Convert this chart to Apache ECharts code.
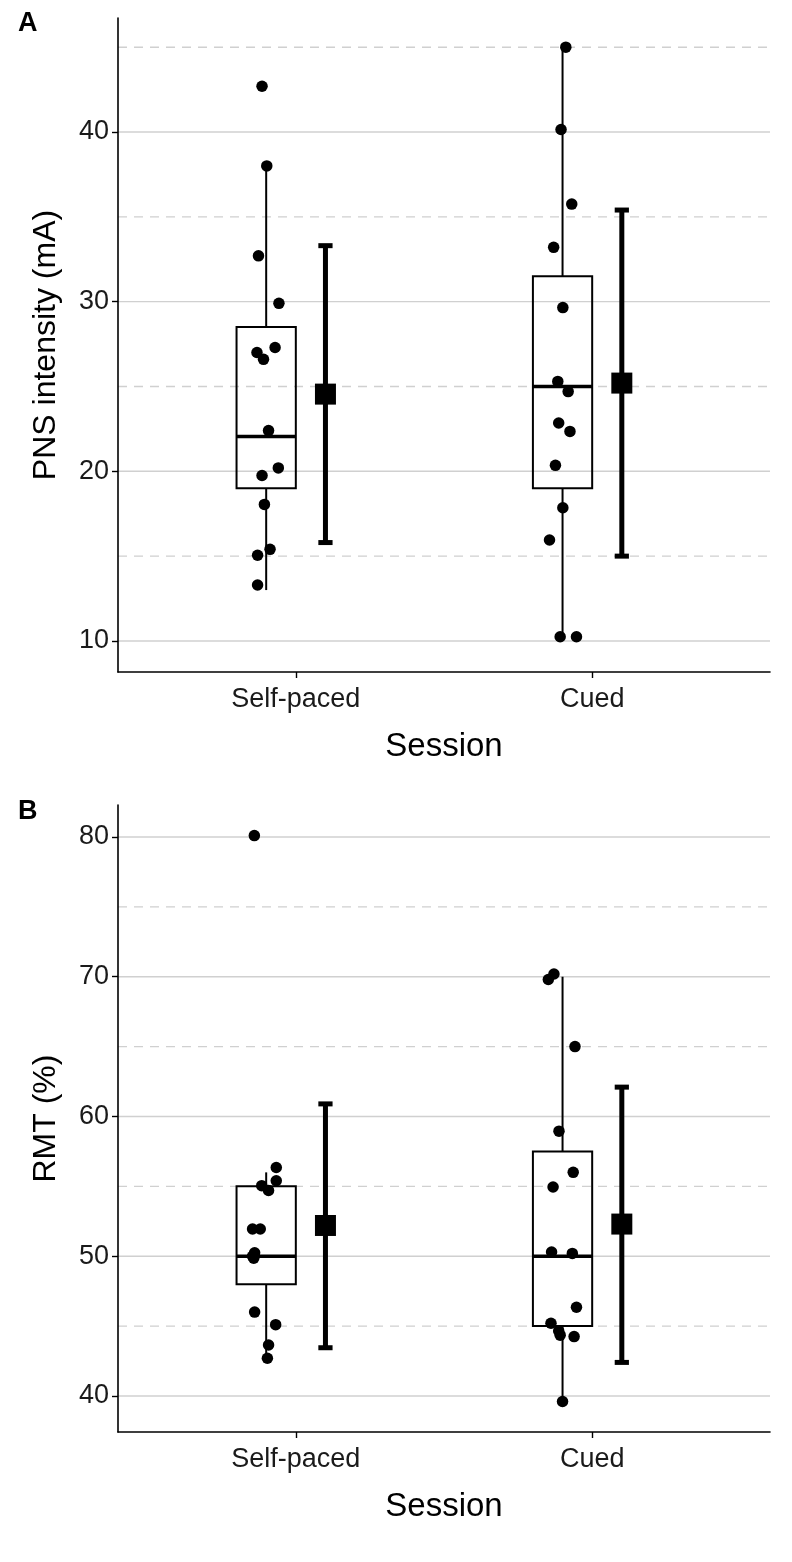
<!DOCTYPE html>
<html>
<head>
<meta charset="utf-8">
<script src="https://cdn.jsdelivr.net/npm/echarts@6/dist/echarts.min.js"></script>
<style>
html,body{margin:0;padding:0;background:#fff;}
#chart{width:792px;height:1562px;}
</style>
</head>
<body>
<div id="chart"></div>
<script>
// ---------- data ----------
const categories = ['Self-paced', 'Cued'];

const yTicksA = [10, 20, 30, 40];
const yMinorA = [15, 25, 35, 45];
const yTicksB = [40, 50, 60, 70, 80];
const yMinorB = [45, 55, 65, 75];

// Panel A: PNS intensity (mA) – individual points (value) and horizontal jitter
const pnsSelfPaced       = [42.7, 38.0, 32.7, 29.9, 27.3, 27.0, 26.6, 22.4, 20.2, 19.75, 18.05, 15.4, 15.05, 13.3];
const pnsSelfPacedJitter = [-0.014, 0.002, -0.026, 0.043, 0.030, -0.031, -0.009, 0.008, 0.041, -0.014, -0.006, 0.013, -0.029, -0.029];
const pnsCued            = [45.0, 40.15, 35.75, 33.2, 29.65, 25.3, 24.7, 22.85, 22.35, 20.35, 17.85, 15.95, 10.25, 10.25];
const pnsCuedJitter      = [0.011, -0.005, 0.031, -0.030, 0.001, -0.016, 0.019, -0.013, 0.025, -0.024, 0.001, -0.044, -0.008, 0.047];

// box stats: [lower whisker, Q1, median, Q3, upper whisker]
const pnsBoxSelfPaced = [13.0, 19.0, 22.05, 28.5, 38.0];
const pnsBoxCued      = [10.1, 19.0, 25.0, 31.5, 45.0];
// mean and error bar: [mean, low, high]
const pnsMeanSelfPaced = [24.55, 15.8, 33.3];
const pnsMeanCued      = [25.2, 15.0, 35.4];

// Panel B: RMT (%)
const rmtSelfPaced       = [80.1, 56.35, 55.4, 55.05, 54.7, 51.95, 51.95, 50.25, 50.0, 49.85, 46.0, 45.1, 43.65, 42.7];
const rmtSelfPacedJitter = [-0.040, 0.034, 0.034, -0.015, 0.008, -0.046, -0.020, -0.039, -0.046, -0.042, -0.039, 0.032, 0.008, 0.004];
const rmtCued            = [70.2, 69.8, 65.0, 58.95, 56.0, 54.95, 50.3, 50.2, 46.35, 45.2, 44.65, 44.35, 44.25, 39.6];
const rmtCuedJitter      = [-0.029, -0.048, 0.042, -0.012, 0.036, -0.032, -0.037, 0.033, 0.047, -0.039, -0.013, -0.008, 0.039, 0.0];

const rmtBoxSelfPaced = [42.7, 48.0, 50.0, 55.0, 56.0];
const rmtBoxCued      = [39.6, 45.0, 50.0, 57.5, 70.0];
const rmtMeanSelfPaced = [52.2, 43.45, 60.9];
const rmtMeanCued      = [52.3, 42.4, 62.1];

// ---------- layout/style constants ----------
const FONT = 'Liberation Sans, Arial, Helvetica, sans-serif';
const BOX_SHIFT = -0.1, MEAN_SHIFT = 0.1, BOX_HALF = 0.1, CAP_HALF = 0.024;
const GRID_COLOR = '#d0d0d0';

const chart = echarts.init(document.getElementById('chart'), null, {renderer: 'canvas'});

function gridLineSeries(idx, ticks, dashed) {
  return {
    type: 'custom', xAxisIndex: idx, yAxisIndex: idx, silent: true, z: 0,
    data: ticks.map(t => [1, t]),
    encode: {x: 0, y: 1},
    renderItem: function (params, api) {
      const cs = params.coordSys;
      const p = api.coord([1, api.value(1)]);
      return {
        type: 'line',
        shape: {x1: cs.x, y1: p[1], x2: cs.x + cs.width, y2: p[1]},
        style: {stroke: GRID_COLOR, lineWidth: 1.4, lineDash: dashed ? [9, 7] : null}
      };
    }
  };
}

function boxSeries(idx, boxes) {
  return {
    type: 'custom', xAxisIndex: idx, yAxisIndex: idx, silent: true, z: 2,
    data: boxes.map((b, i) => [i + 1].concat(b)),
    encode: {x: 0, y: [1, 2, 3, 4, 5]},
    renderItem: function (params, api) {
      const xc = api.value(0) + BOX_SHIFT;
      const lo = api.coord([xc, api.value(1)]);
      const q1 = api.coord([xc, api.value(2)]);
      const md = api.coord([xc, api.value(3)]);
      const q3 = api.coord([xc, api.value(4)]);
      const hi = api.coord([xc, api.value(5)]);
      const hw = api.size([BOX_HALF, 0])[0];
      const st = {stroke: '#000', lineWidth: 2, fill: null};
      return {
        type: 'group',
        children: [
          {type: 'line', shape: {x1: lo[0], y1: lo[1], x2: q1[0], y2: q1[1]}, style: st},
          {type: 'line', shape: {x1: q3[0], y1: q3[1], x2: hi[0], y2: hi[1]}, style: st},
          {type: 'rect', shape: {x: q1[0] - hw, y: q3[1], width: 2 * hw, height: q1[1] - q3[1]},
           style: {stroke: '#000', lineWidth: 2, fill: 'rgba(255,255,255,0)'}},
          {type: 'line', shape: {x1: md[0] - hw, y1: md[1], x2: md[0] + hw, y2: md[1]},
           style: {stroke: '#000', lineWidth: 3.5}}
        ]
      };
    }
  };
}

function meanSeries(idx, means) {
  return {
    type: 'custom', xAxisIndex: idx, yAxisIndex: idx, silent: true, z: 3,
    data: means.map((m, i) => [i + 1].concat(m)),
    encode: {x: 0, y: [1, 2, 3]},
    renderItem: function (params, api) {
      const xc = api.value(0) + MEAN_SHIFT;
      const m = api.coord([xc, api.value(1)]);
      const lo = api.coord([xc, api.value(2)]);
      const hi = api.coord([xc, api.value(3)]);
      const cw = api.size([CAP_HALF, 0])[0];
      const st = {stroke: '#000', lineWidth: 5};
      const sq = 21;
      return {
        type: 'group',
        children: [
          {type: 'line', shape: {x1: lo[0], y1: lo[1], x2: hi[0], y2: hi[1]}, style: st},
          {type: 'line', shape: {x1: lo[0] - cw, y1: lo[1], x2: lo[0] + cw, y2: lo[1]}, style: st},
          {type: 'line', shape: {x1: hi[0] - cw, y1: hi[1], x2: hi[0] + cw, y2: hi[1]}, style: st},
          {type: 'rect', shape: {x: m[0] - sq / 2, y: m[1] - sq / 2, width: sq, height: sq}, style: {fill: '#000'}}
        ]
      };
    }
  };
}

function pointSeries(idx, catIdx, values, jitter) {
  return {
    type: 'scatter', xAxisIndex: idx, yAxisIndex: idx, silent: true, z: 4,
    symbol: 'circle', symbolSize: 11.5,
    itemStyle: {color: '#000', opacity: 1},
    data: values.map((v, i) => [catIdx + 1 + BOX_SHIFT + jitter[i], v])
  };
}

function xAxis(idx) {
  return {
    type: 'value', gridIndex: idx, min: 0.4, max: 2.6,
    axisLine: {show: true, onZero: false, lineStyle: {color: '#000', width: 1.6}},
    axisTick: {show: true, customValues: [1, 2], length: 6, lineStyle: {color: '#000', width: 1.4}},
    axisLabel: {show: true, customValues: [1, 2], formatter: v => categories[Math.round(v) - 1],
      color: '#1a1a1a', fontSize: 27, fontFamily: FONT, margin: 14},
    splitLine: {show: false},
    name: 'Session', nameLocation: 'middle', nameGap: 58,
    nameTextStyle: {color: '#000', fontSize: 33, fontFamily: FONT}
  };
}

function yAxis(idx, min, max, ticks, name) {
  return {
    type: 'value', gridIndex: idx, min: min, max: max,
    axisLine: {show: true, onZero: false, lineStyle: {color: '#000', width: 1.6}},
    axisTick: {show: true, customValues: ticks, length: 6, lineStyle: {color: '#000', width: 1.4}},
    axisLabel: {show: true, customValues: ticks, color: '#1a1a1a', fontSize: 27, fontFamily: FONT, margin: 9},
    splitLine: {show: false},
    name: name, nameLocation: 'middle', nameGap: 56, nameRotate: 90,
    nameTextStyle: {color: '#000', fontSize: 32, fontFamily: FONT}
  };
}

const option = {
  backgroundColor: '#fff',
  animation: false,
  title: [
    {text: 'A', left: 13, top: 5, textStyle: {fontSize: 27, fontWeight: 'bold', color: '#000', fontFamily: FONT}},
    {text: 'B', left: 13, top: 793, textStyle: {fontSize: 27, fontWeight: 'bold', color: '#000', fontFamily: FONT}}
  ],
  grid: [
    {left: 118, right: 22, top: 18, height: 654},
    {left: 118, right: 22, top: 805, height: 627}
  ],
  xAxis: [xAxis(0), xAxis(1)],
  yAxis: [
    yAxis(0, 8.17, 46.72, yTicksA, 'PNS intensity (mA)'),
    yAxis(1, 37.42, 82.29, yTicksB, 'RMT (%)')
  ],
  series: [
    gridLineSeries(0, yTicksA, false),
    gridLineSeries(0, yMinorA, true),
    gridLineSeries(1, yTicksB, false),
    gridLineSeries(1, yMinorB, true),
    boxSeries(0, [pnsBoxSelfPaced, pnsBoxCued]),
    boxSeries(1, [rmtBoxSelfPaced, rmtBoxCued]),
    meanSeries(0, [pnsMeanSelfPaced, pnsMeanCued]),
    meanSeries(1, [rmtMeanSelfPaced, rmtMeanCued]),
    pointSeries(0, 0, pnsSelfPaced, pnsSelfPacedJitter),
    pointSeries(0, 1, pnsCued, pnsCuedJitter),
    pointSeries(1, 0, rmtSelfPaced, rmtSelfPacedJitter),
    pointSeries(1, 1, rmtCued, rmtCuedJitter)
  ]
};
chart.setOption(option);
</script>
</body>
</html>
